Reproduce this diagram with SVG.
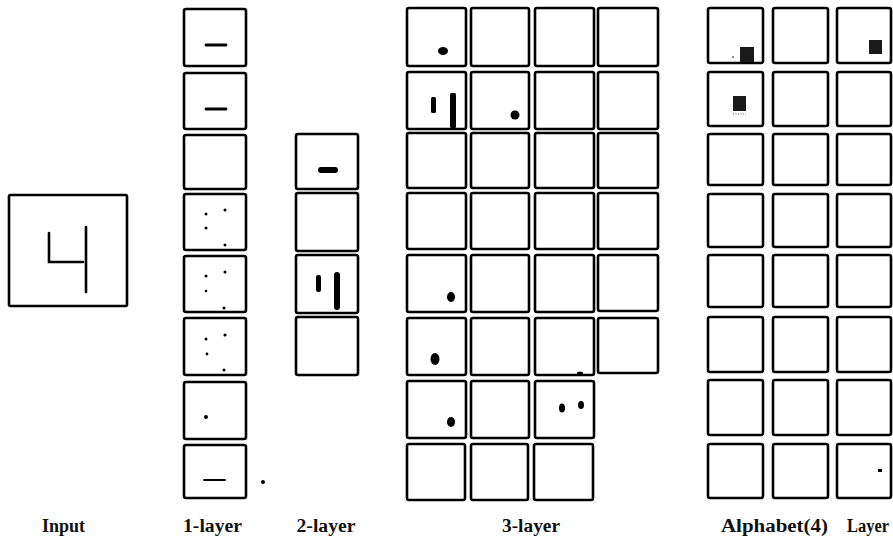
<svg xmlns="http://www.w3.org/2000/svg" width="893" height="538" viewBox="0 0 893 538">
<defs>
<style>
.b{fill:#fff;stroke:#000;stroke-width:2.6}
.ink{fill:#000}
.ln{stroke:#000;fill:none;stroke-linecap:round}
.lbl{font-family:"Liberation Serif","Times New Roman",serif;font-size:18px;font-weight:bold;fill:#111;text-anchor:middle}
.dith{fill:#1a1a1a}
</style>
</defs>
<rect width="893" height="538" fill="#fff"/>

<g id="input">
<rect class="b" x="9" y="195" width="118" height="111" rx="1.5"/>
<path class="ln" stroke-width="2.6" d="M49,233 L49,262 L83,262"/>
<path class="ln" stroke-width="2.6" d="M86,227 L86,292"/>
</g>

<g id="layer1">
<rect class="b" x="184" y="9" width="62" height="57" rx="2"/>
<line class="ln" stroke-width="2.8" x1="206" y1="45" x2="226" y2="45"/>
<rect class="b" x="184" y="73" width="62" height="56" rx="2"/>
<line class="ln" stroke-width="2.8" x1="206" y1="109" x2="226" y2="109"/>
<rect class="b" x="184" y="135" width="62" height="54" rx="2"/>
<rect class="b" x="184" y="194" width="62" height="56" rx="2"/>
<circle class="ink" cx="206" cy="214" r="1.5"/><circle class="ink" cx="225" cy="210" r="1.5"/><circle class="ink" cx="206" cy="228" r="1.5"/><circle class="ink" cx="225" cy="245" r="1.5"/>
<rect class="b" x="184" y="256" width="62" height="56" rx="2"/>
<circle class="ink" cx="206" cy="276" r="1.5"/><circle class="ink" cx="225" cy="272" r="1.5"/><circle class="ink" cx="206" cy="291" r="1.3"/><circle class="ink" cx="224" cy="308" r="1.5"/>
<rect class="b" x="184" y="318" width="62" height="57" rx="2"/>
<circle class="ink" cx="206" cy="339" r="1.5"/><circle class="ink" cx="225" cy="335" r="1.6"/><circle class="ink" cx="207" cy="354" r="1.4"/><circle class="ink" cx="224" cy="370" r="1.5"/>
<rect class="b" x="184" y="382" width="62" height="57" rx="2"/>
<circle class="ink" cx="206" cy="417" r="2"/>
<rect class="b" x="184" y="445" width="62" height="53" rx="2"/>
<line class="ln" stroke-width="2" x1="204" y1="480" x2="225" y2="480"/>
<circle class="ink" cx="263" cy="482" r="2"/>
</g>

<g id="layer2">
<rect class="b" x="296" y="134" width="62" height="55" rx="2"/>
<rect class="ink" x="318" y="167" width="20" height="6" rx="3"/>
<rect class="b" x="296" y="193" width="62" height="58" rx="2"/>
<rect class="b" x="296" y="255" width="62" height="58" rx="2"/>
<rect class="ink" x="316" y="275" width="5" height="17" rx="2"/>
<rect class="ink" x="334" y="272" width="6" height="38" rx="3"/>
<rect class="b" x="296" y="317" width="62" height="58" rx="2"/>
</g>

<g id="layer3">
<rect class="b" x="407" y="8" width="59" height="58" rx="2"/>
<rect class="b" x="471" y="8" width="58" height="58" rx="2"/>
<rect class="b" x="535" y="8" width="59" height="58" rx="2"/>
<rect class="b" x="598" y="8" width="60" height="58" rx="2"/>
<rect class="b" x="407" y="72" width="59" height="57" rx="2"/>
<rect class="b" x="471" y="72" width="58" height="57" rx="2"/>
<rect class="b" x="535" y="72" width="59" height="57" rx="2"/>
<rect class="b" x="598" y="72" width="60" height="57" rx="2"/>
<rect class="b" x="407" y="133" width="59" height="55" rx="2"/>
<rect class="b" x="471" y="133" width="58" height="55" rx="2"/>
<rect class="b" x="535" y="133" width="59" height="55" rx="2"/>
<rect class="b" x="598" y="133" width="60" height="55" rx="2"/>
<rect class="b" x="407" y="193" width="59" height="56" rx="2"/>
<rect class="b" x="471" y="193" width="58" height="56" rx="2"/>
<rect class="b" x="535" y="193" width="59" height="56" rx="2"/>
<rect class="b" x="598" y="193" width="60" height="56" rx="2"/>
<rect class="b" x="407" y="255" width="59" height="57" rx="2"/>
<rect class="b" x="471" y="255" width="58" height="57" rx="2"/>
<rect class="b" x="535" y="255" width="59" height="57" rx="2"/>
<rect class="b" x="598" y="255" width="60" height="56" rx="2"/>
<rect class="b" x="407" y="318" width="59" height="57" rx="2"/>
<rect class="b" x="471" y="318" width="58" height="57" rx="2"/>
<rect class="b" x="535" y="318" width="59" height="57" rx="2"/>
<rect class="b" x="598" y="318" width="60" height="55" rx="2"/>
<rect class="b" x="407" y="381" width="59" height="57" rx="2"/>
<rect class="b" x="471" y="381" width="58" height="57" rx="2"/>
<rect class="b" x="535" y="381" width="59" height="57" rx="2"/>
<rect class="b" x="407" y="444" width="58" height="56" rx="2"/>
<rect class="b" x="471" y="444" width="57" height="56" rx="2"/>
<rect class="b" x="534" y="444" width="59" height="56" rx="2"/>
<ellipse class="ink" cx="443" cy="51" rx="5" ry="4"/>
<rect class="ink" x="431" y="97" width="5" height="16" rx="1.5"/>
<rect class="ink" x="450" y="93" width="6" height="35" rx="1.5"/>
<ellipse class="ink" cx="515" cy="115" rx="4.5" ry="4.5"/>
<ellipse class="ink" cx="451" cy="297" rx="4" ry="5"/>
<ellipse class="ink" cx="435" cy="359" rx="4.5" ry="6"/>
<ellipse class="ink" cx="580" cy="373" rx="3" ry="1.5"/>
<ellipse class="ink" cx="451" cy="422" rx="4" ry="5"/>
<ellipse class="ink" cx="562" cy="408" rx="3" ry="4.5"/>
<ellipse class="ink" cx="581" cy="405" rx="3" ry="4"/>
</g>

<g id="alphabet4">
<rect class="b" x="708" y="8" width="55" height="55" rx="2"/>
<rect class="b" x="773" y="8" width="55" height="55" rx="2"/>
<rect class="b" x="837" y="8" width="54" height="55" rx="2"/>
<rect class="b" x="708" y="72" width="55" height="54" rx="2"/>
<rect class="b" x="773" y="72" width="55" height="54" rx="2"/>
<rect class="b" x="837" y="72" width="54" height="54" rx="2"/>
<rect class="b" x="708" y="134" width="55" height="51" rx="2"/>
<rect class="b" x="773" y="134" width="55" height="51" rx="2"/>
<rect class="b" x="837" y="134" width="54" height="51" rx="2"/>
<rect class="b" x="708" y="194" width="55" height="53" rx="2"/>
<rect class="b" x="773" y="194" width="55" height="53" rx="2"/>
<rect class="b" x="837" y="194" width="54" height="53" rx="2"/>
<rect class="b" x="708" y="255" width="55" height="52" rx="2"/>
<rect class="b" x="773" y="255" width="55" height="52" rx="2"/>
<rect class="b" x="837" y="255" width="54" height="52" rx="2"/>
<rect class="b" x="708" y="317" width="55" height="55" rx="2"/>
<rect class="b" x="773" y="317" width="55" height="55" rx="2"/>
<rect class="b" x="837" y="317" width="54" height="55" rx="2"/>
<rect class="b" x="708" y="380" width="55" height="55" rx="2"/>
<rect class="b" x="773" y="380" width="55" height="55" rx="2"/>
<rect class="b" x="837" y="380" width="54" height="55" rx="2"/>
<rect class="b" x="708" y="444" width="55" height="54" rx="2"/>
<rect class="b" x="773" y="444" width="55" height="54" rx="2"/>
<rect class="b" x="837" y="444" width="54" height="54" rx="2"/>
<rect class="dith" x="740" y="47" width="14" height="15"/>
<circle class="ink" cx="733" cy="57" r="0.8"/>
<rect class="dith" x="869" y="40" width="13" height="14"/>
<rect class="dith" x="733" y="96" width="13" height="15"/>
<line x1="733" y1="114" x2="746" y2="114" stroke="#555" stroke-width="1" stroke-dasharray="1,1.5"/>
<rect class="ink" x="878" y="469" width="4" height="3"/>
</g>

<g id="labels">
<text class="lbl" x="63.5" y="532" textLength="43" lengthAdjust="spacingAndGlyphs">Input</text>
<text class="lbl" x="212.5" y="532" textLength="59" lengthAdjust="spacingAndGlyphs">1-layer</text>
<text class="lbl" x="326" y="532" textLength="59" lengthAdjust="spacingAndGlyphs">2-layer</text>
<text class="lbl" x="531" y="532" textLength="58" lengthAdjust="spacingAndGlyphs">3-layer</text>
<text class="lbl" x="774.5" y="532" textLength="107" lengthAdjust="spacingAndGlyphs">Alphabet(4)</text>
<text class="lbl" x="868" y="532" textLength="42" lengthAdjust="spacingAndGlyphs">Layer</text>
</g>
</svg>
